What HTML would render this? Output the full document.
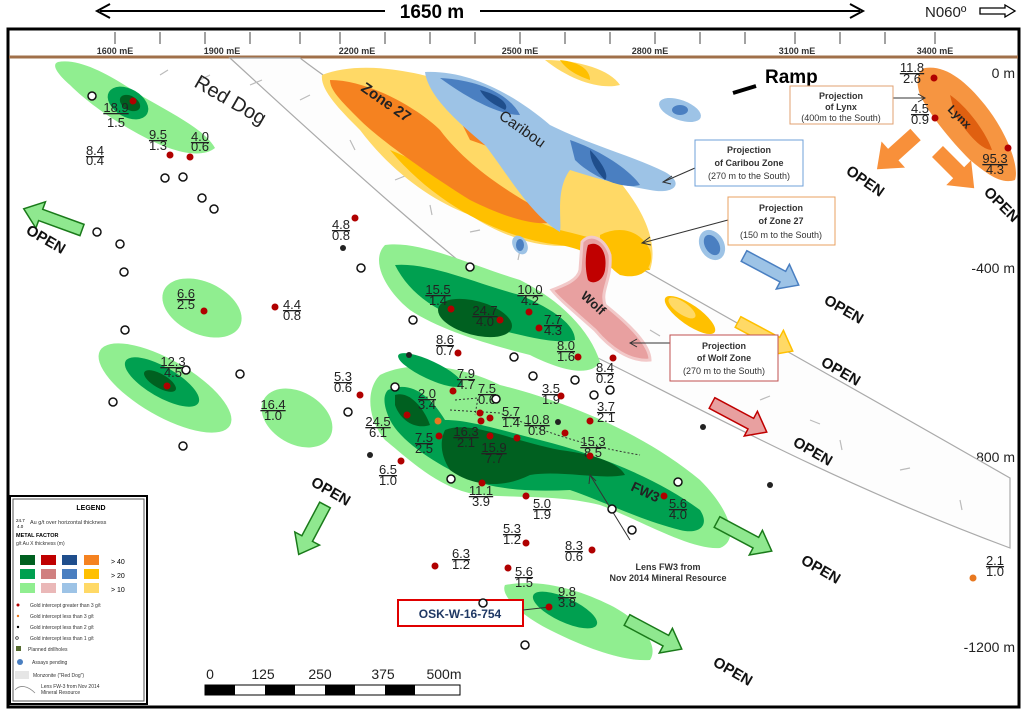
<!DOCTYPE html>
<html><head><meta charset="utf-8"><style>
body{margin:0;background:#fff;}
svg{display:block;font-family:"Liberation Sans",sans-serif;}
.f{font-size:13px;fill:#222;text-anchor:middle}
.o{font-size:15px;font-weight:bold;fill:#111}
.p{font-size:9px;font-weight:bold;fill:#333;text-anchor:middle}
.q{font-size:9px;fill:#333;text-anchor:middle}
</style></head><body>
<svg width="1024" height="711" viewBox="0 0 1024 711" xmlns="http://www.w3.org/2000/svg">
<!-- top arrow -->
<line x1="100" y1="11" x2="860" y2="11" stroke="#000" stroke-width="2"/>
<polyline points="110,4 97,11 110,18" fill="none" stroke="#000" stroke-width="2"/>
<polyline points="850,4 863,11 850,18" fill="none" stroke="#000" stroke-width="2"/>
<rect x="385" y="0" width="95" height="22" fill="#fff"/>
<text x="432" y="18" font-size="19" font-weight="bold" text-anchor="middle">1650 m</text>
<text x="925" y="17" font-size="15" fill="#222">N060º</text>
<path d="M980 8 H1005 V5 L1015 11 L1005 17 V14 H980 Z" fill="#fff" stroke="#000" stroke-width="1.3"/>
<!-- frame -->
<rect x="8" y="29" width="1011" height="678" fill="#fff" stroke="#000" stroke-width="3"/>
<line x1="9" y1="57" x2="1018" y2="57" stroke="#a0704a" stroke-width="3"/>
<g stroke="#444" stroke-width="1">
<line x1="115" y1="32" x2="115" y2="44"/><line x1="160" y1="32" x2="160" y2="44"/><line x1="205" y1="32" x2="205" y2="44"/><line x1="250" y1="32" x2="250" y2="44"/><line x1="300" y1="32" x2="300" y2="44"/><line x1="340" y1="32" x2="340" y2="44"/><line x1="385" y1="32" x2="385" y2="44"/><line x1="430" y1="32" x2="430" y2="44"/><line x1="475" y1="32" x2="475" y2="44"/><line x1="520" y1="32" x2="520" y2="44"/><line x1="565" y1="32" x2="565" y2="44"/><line x1="610" y1="32" x2="610" y2="44"/><line x1="655" y1="32" x2="655" y2="44"/><line x1="700" y1="32" x2="700" y2="44"/><line x1="745" y1="32" x2="745" y2="44"/><line x1="795" y1="32" x2="795" y2="44"/><line x1="840" y1="32" x2="840" y2="44"/><line x1="885" y1="32" x2="885" y2="44"/><line x1="935" y1="32" x2="935" y2="44"/>
</g>
<g font-size="9" font-weight="bold" fill="#333" text-anchor="middle">
<text x="115" y="54">1600 mE</text><text x="222" y="54">1900 mE</text><text x="357" y="54">2200 mE</text><text x="520" y="54">2500 mE</text><text x="650" y="54">2800 mE</text><text x="797" y="54">3100 mE</text><text x="935" y="54">3400 mE</text>
</g>
<g font-size="14" fill="#222" text-anchor="end">
<text x="1015" y="78">0 m</text><text x="1015" y="273">-400 m</text><text x="1015" y="462">-800 m</text><text x="1015" y="652">-1200 m</text>
</g>
<!-- monzonite band -->
<path d="M230 58 L300 58 C420 150 700 300 1010 478 L1010 548 C800 470 650 380 560 340 C450 260 330 150 230 58 Z" fill="#fdfdfd" stroke="#aaa" stroke-width="1.2"/>
<g stroke="#bbb" stroke-width="1.2">
<line x1="300" y1="100" x2="310" y2="95"/><line x1="350" y1="140" x2="355" y2="150"/><line x1="395" y1="180" x2="405" y2="176"/><line x1="430" y1="205" x2="432" y2="215"/><line x1="470" y1="232" x2="480" y2="230"/><line x1="520" y1="250" x2="518" y2="260"/><line x1="590" y1="300" x2="600" y2="296"/><line x1="650" y1="330" x2="660" y2="336"/><line x1="700" y1="360" x2="705" y2="370"/><line x1="760" y1="400" x2="770" y2="396"/><line x1="840" y1="440" x2="842" y2="450"/><line x1="900" y1="470" x2="910" y2="468"/><line x1="960" y1="500" x2="962" y2="510"/><line x1="250" y1="85" x2="262" y2="80"/><line x1="200" y1="80" x2="210" y2="75"/><line x1="160" y1="75" x2="168" y2="70"/><line x1="810" y1="420" x2="820" y2="424"/>
</g>
<!-- Zone 27 / yellow-orange -->
<path d="M322 75 C360 60 420 70 470 90 C520 110 560 130 600 160 C640 200 660 240 650 270 C620 275 590 265 575 245 C540 250 500 235 470 215 C430 200 390 170 360 130 C340 110 320 90 322 75Z" fill="#ffd966"/>
<path d="M390 150 C440 170 500 210 560 230 C600 240 640 250 650 270 C620 270 590 250 560 245 C510 240 440 210 390 150Z" fill="#ffc000"/>
<path d="M330 80 C370 80 420 110 440 130 C470 170 520 200 560 220 C540 230 500 215 470 200 C430 175 380 140 360 120 C340 100 330 90 330 80Z" fill="#f58220"/>
<path d="M460 120 C490 125 520 140 545 155 C530 165 500 150 470 140Z" fill="#f58220"/>
<path d="M545 60 C580 60 610 70 620 85 C600 90 570 80 545 60Z" fill="#ffd966"/>
<path d="M560 60 C580 62 590 70 590 80 C575 75 565 68 560 60Z" fill="#ffc000"/>
<!-- Caribou blue -->
<path d="M425 72 C470 70 515 95 550 125 C590 145 630 155 665 172 C685 183 675 195 650 190 C620 185 595 178 570 170 C555 190 562 220 560 232 C530 215 505 170 485 145 C455 120 428 95 425 72Z" fill="#9dc3e6"/>
<path d="M440 78 C480 80 510 95 520 115 C500 115 470 100 440 78Z" fill="#4a7fc1"/>
<path d="M480 90 C500 95 510 105 505 110 C495 105 485 100 480 90Z" fill="#1f4e8c"/>
<path d="M570 140 C600 150 630 170 640 185 C620 190 590 175 575 160Z" fill="#4a7fc1"/>
<path d="M590 150 C600 160 610 175 605 180 C595 170 590 160 590 150Z" fill="#1f4e8c"/>
<ellipse cx="680" cy="110" rx="22" ry="10" transform="rotate(20 680 110)" fill="#9dc3e6"/>
<ellipse cx="680" cy="110" rx="8" ry="5" fill="#4a7fc1"/>
<ellipse cx="520" cy="245" rx="7" ry="10" transform="rotate(-30 520 245)" fill="#9dc3e6"/>
<ellipse cx="520" cy="245" rx="4" ry="6" fill="#4a7fc1"/>
<ellipse cx="712" cy="245" rx="12" ry="16" transform="rotate(-30 712 245)" fill="#9dc3e6"/>
<ellipse cx="712" cy="245" rx="7" ry="11" transform="rotate(-30 712 245)" fill="#4a7fc1"/>
<path d="M600 235 C620 225 640 230 650 250 C655 270 640 280 620 275 C605 265 600 250 600 235Z" fill="#ffc000"/>
<ellipse cx="690" cy="315" rx="30" ry="10" transform="rotate(35 690 315)" fill="#ffc000"/>
<ellipse cx="682" cy="308" rx="16" ry="6" transform="rotate(35 682 308)" fill="#ffd966"/>
<!-- Wolf -->
<path d="M582 242 C590 232 605 238 610 255 C612 280 600 290 605 305 C630 325 650 345 650 360 C630 362 610 348 595 330 C575 312 560 300 552 290 C565 285 578 280 580 270Z" fill="#e8a0a0" stroke="#f2c9c9" stroke-width="3"/>
<path d="M588 245 C598 240 608 250 605 270 C603 282 592 285 588 280 C585 270 585 255 588 245Z" fill="#c00000"/>
<!-- Lynx -->
<path d="M925 68 C945 65 965 80 985 105 C1005 130 1020 165 1015 180 C1000 185 985 172 970 160 C950 140 930 115 920 95 C915 80 918 70 925 68Z" fill="#f58220" opacity="0.85"/>
<path d="M950 95 C965 105 985 130 992 150 C980 150 965 130 955 115Z" fill="#e06010"/>
<!-- green zones -->
<g>
<path d="M58 62 C80 58 110 75 140 95 C175 115 205 130 215 148 C200 160 170 150 150 140 C120 125 90 105 70 85 C55 72 52 64 58 62Z" fill="#90ee90"/>
<ellipse cx="128" cy="103" rx="22" ry="14" transform="rotate(30 128 103)" fill="#00a050"/>
<ellipse cx="130" cy="103" rx="11" ry="7" transform="rotate(30 130 103)" fill="#006020"/>
<ellipse cx="202" cy="308" rx="42" ry="26" transform="rotate(25 202 308)" fill="#90ee90"/>
<ellipse cx="165" cy="388" rx="75" ry="28" transform="rotate(30 165 388)" fill="#90ee90"/>
<ellipse cx="162" cy="382" rx="42" ry="15" transform="rotate(30 162 382)" fill="#00a050"/>
<ellipse cx="160" cy="381" rx="18" ry="7" transform="rotate(30 160 381)" fill="#006020"/>
<ellipse cx="297" cy="418" rx="38" ry="26" transform="rotate(30 297 418)" fill="#90ee90"/>
<path d="M385 245 C420 240 470 265 520 280 C560 300 590 330 600 362 C590 378 560 370 530 355 C490 345 440 330 410 310 C385 290 370 260 385 245Z" fill="#90ee90"/>
<path d="M395 265 C430 262 480 285 520 295 C555 310 575 325 575 340 C555 345 520 335 480 325 C440 315 410 295 395 265Z" fill="#00a050"/>
<ellipse cx="475" cy="318" rx="38" ry="17" transform="rotate(15 475 318)" fill="#006020"/>
<path d="M380 375 C410 360 460 365 500 385 C560 400 640 430 700 480 C730 510 740 540 720 548 C690 550 640 520 600 505 C560 495 520 498 480 495 C440 490 410 460 385 440 C368 420 365 390 380 375Z" fill="#90ee90"/>
<path d="M388 390 C410 380 430 395 445 420 C470 420 500 430 540 440 C600 455 660 480 700 510 C710 525 700 535 680 530 C640 520 600 500 570 490 C530 492 490 490 460 475 C430 460 400 440 390 420 C383 405 383 395 388 390Z" fill="#00a050"/>
<ellipse cx="430" cy="370" rx="35" ry="9" transform="rotate(25 430 370)" fill="#00a050"/>
<path d="M395 395 C410 390 425 410 430 425 C415 430 400 420 395 405Z" fill="#006020"/>
<path d="M445 430 C470 420 510 440 560 450 C600 455 620 465 625 475 C600 480 560 470 530 475 C500 490 470 485 450 470 C440 455 440 440 445 430Z" fill="#006020"/>
<path d="M505 585 C540 578 580 590 610 605 C640 620 660 645 650 660 C620 662 580 645 550 630 C520 615 500 595 505 585Z" fill="#90ee90"/>
<ellipse cx="565" cy="610" rx="35" ry="12" transform="rotate(25 565 610)" fill="#00a050"/>
</g>
<!-- dotted FW3 outline -->
<path d="M450 410 L500 413 C540 430 580 445 640 455" fill="none" stroke="#333" stroke-width="1" stroke-dasharray="2,2"/>
<path d="M455 400 L478 398 L475 415" fill="none" stroke="#333" stroke-width="1" stroke-dasharray="2,2"/>
<!-- zone labels -->
<text x="360" y="90" transform="rotate(35 360 90)" font-size="15" font-weight="bold" fill="#222">Zone 27</text>
<text x="498" y="118" transform="rotate(35 498 118)" font-size="15" fill="#222">Caribou</text>
<text x="193" y="86" transform="rotate(30 193 86)" font-size="20" fill="#222">Red Dog</text>
<text x="580" y="297" transform="rotate(42 580 297)" font-size="13" font-weight="bold" fill="#222">Wolf</text>
<text x="947" y="110" transform="rotate(45 947 110)" font-size="12" font-weight="bold" fill="#222">Lynx</text>
<text x="630" y="490" transform="rotate(25 630 490)" font-size="14" font-weight="bold" fill="#222">FW3</text>
<text x="765" y="83" font-size="19" font-weight="bold">Ramp</text>
<line x1="733" y1="93" x2="756" y2="86" stroke="#000" stroke-width="4"/>
<!-- block arrows -->
<g stroke-width="1.5">
<path d="M0,-6 L44,-6 L44,-14 L62,0 L44,14 L44,6 L0,6 Z" transform="translate(82,230) rotate(200)" fill="#8fe88f" stroke="#1a7a1a"/>
<path d="M0,-6 L38,-6 L38,-14 L56,0 L38,14 L38,6 L0,6 Z" transform="translate(325,505) rotate(118)" fill="#8fe88f" stroke="#1a7a1a"/>
<path d="M0,-6 L44,-6 L44,-14 L62,0 L44,14 L44,6 L0,6 Z" transform="translate(717,522) rotate(28)" fill="#8fe88f" stroke="#1a7a1a"/>
<path d="M0,-6 L44,-6 L44,-14 L62,0 L44,14 L44,6 L0,6 Z" transform="translate(627,620) rotate(28)" fill="#8fe88f" stroke="#1a7a1a"/>
<path d="M0,-6 L44,-6 L44,-14 L62,0 L44,14 L44,6 L0,6 Z" transform="translate(744,256) rotate(28)" fill="#9dc3e6" stroke="#4a7fc1"/>
<path d="M0,-6 L44,-6 L44,-14 L62,0 L44,14 L44,6 L0,6 Z" transform="translate(738,322) rotate(28)" fill="#ffd966" stroke="#ffc000"/>
<path d="M0,-6 L44,-6 L44,-14 L62,0 L44,14 L44,6 L0,6 Z" transform="translate(712,403) rotate(28)" fill="#e8a0a0" stroke="#c00000"/>
<path d="M0,-7 L30,-7 L30,-16 L50,0 L30,16 L30,7 L0,7 Z" transform="translate(915,135) rotate(138)" fill="#f8903a" stroke="#f8903a"/>
<path d="M0,-7 L30,-7 L30,-16 L50,0 L30,16 L30,7 L0,7 Z" transform="translate(938,152) rotate(45)" fill="#f8903a" stroke="#f8903a"/>
</g>
<g class="o">
<text x="25" y="233" transform="rotate(30 25 233)">OPEN</text>
<text x="310" y="485" transform="rotate(30 310 485)">OPEN</text>
<text x="800" y="563" transform="rotate(30 800 563)">OPEN</text>
<text x="712" y="665" transform="rotate(30 712 665)">OPEN</text>
<text x="823" y="303" transform="rotate(30 823 303)">OPEN</text>
<text x="820" y="365" transform="rotate(30 820 365)">OPEN</text>
<text x="792" y="445" transform="rotate(30 792 445)">OPEN</text>
<text x="845" y="173" transform="rotate(35 845 173)">OPEN</text>
<text x="983" y="193" transform="rotate(45 983 193)">OPEN</text>
</g>
<!-- callouts -->
<g stroke="#333" stroke-width="1" fill="none">
<line x1="893" y1="98" x2="925" y2="98"/><polyline points="918,94 925,98 918,102"/>
<line x1="695" y1="168" x2="663" y2="182"/><polyline points="672,176 663,182 671,184"/>
<line x1="728" y1="220" x2="642" y2="243"/><polyline points="650,237 642,243 651,245"/>
<line x1="670" y1="343" x2="630" y2="343"/><polyline points="637,339 630,343 637,347"/>
<line x1="630" y1="540" x2="590" y2="475"/><polyline points="589,484 590,475 596,481"/>
</g>
<rect x="790" y="86" width="103" height="38" fill="#fff" stroke="#e0a070"/>
<text class="p" x="841" y="99">Projection</text><text class="p" x="841" y="110">of Lynx</text><text class="q" x="841" y="121">(400m to the South)</text>
<rect x="695" y="140" width="108" height="46" fill="#fff" stroke="#6fa0d8"/>
<text class="p" x="749" y="153">Projection</text><text class="p" x="749" y="166">of Caribou Zone</text><text class="q" x="749" y="179">(270 m to the South)</text>
<rect x="728" y="197" width="107" height="48" fill="#fff" stroke="#e8a060"/>
<text class="p" x="781" y="211">Projection</text><text class="p" x="781" y="224">of Zone 27</text><text class="q" x="781" y="238">(150 m to the South)</text>
<rect x="670" y="335" width="108" height="46" fill="#fff" stroke="#c05050"/>
<text class="p" x="724" y="349">Projection</text><text class="p" x="724" y="361">of Wolf Zone</text><text class="q" x="724" y="374">(270 m to the South)</text>
<text class="p" x="668" y="570">Lens FW3 from</text><text class="p" x="668" y="581">Nov 2014 Mineral Resource</text>
<rect x="398" y="600" width="125" height="26" fill="#fff" stroke="#e00000" stroke-width="2"/>
<text x="460" y="618" font-size="12" font-weight="bold" fill="#1f3864" text-anchor="middle">OSK-W-16-754</text>
<line x1="523" y1="610" x2="550" y2="607" stroke="#333"/>
<!-- fractions -->
<g class="f" text-decoration="underline">
<text x="116" y="112">18.9</text><text x="95" y="155">8.4</text><text x="158" y="139">9.5</text><text x="200" y="141">4.0</text><text x="341" y="229">4.8</text><text x="186" y="298">6.6</text><text x="292" y="309">4.4</text><text x="173" y="366">12.3</text><text x="343" y="381">5.3</text><text x="273" y="409">16.4</text><text x="438" y="294">15.5</text><text x="485" y="315">24.7</text><text x="530" y="294">10.0</text><text x="553" y="324">7.7</text><text x="445" y="344">8.6</text><text x="566" y="350">8.0</text><text x="605" y="372">8.4</text><text x="466" y="378">7.9</text><text x="427" y="398">2.0</text><text x="487" y="393">7.5</text><text x="511" y="416">5.7</text><text x="551" y="393">3.5</text><text x="537" y="424">10.8</text><text x="606" y="411">3.7</text><text x="378" y="426">24.5</text><text x="424" y="442">7.5</text><text x="466" y="436">16.3</text><text x="494" y="452">15.9</text><text x="593" y="446">15.3</text><text x="388" y="474">6.5</text><text x="481" y="495">11.1</text><text x="542" y="508">5.0</text><text x="678" y="508">5.6</text><text x="512" y="533">5.3</text><text x="461" y="558">6.3</text><text x="574" y="550">8.3</text><text x="524" y="576">5.6</text><text x="567" y="596">9.8</text><text x="995" y="565">2.1</text><text x="912" y="72">11.8</text><text x="920" y="113">4.5</text><text x="995" y="163">95.3</text>
</g>
<g class="f">
<text x="116" y="127">1.5</text><text x="95" y="165">0.4</text><text x="158" y="150">1.3</text><text x="200" y="151">0.6</text><text x="341" y="240">0.8</text><text x="186" y="309">2.5</text><text x="292" y="320">0.8</text><text x="173" y="377">4.5</text><text x="343" y="392">0.6</text><text x="273" y="420">1.0</text><text x="438" y="305">1.4</text><text x="485" y="326">4.0</text><text x="530" y="305">4.2</text><text x="553" y="335">4.3</text><text x="445" y="355">0.7</text><text x="566" y="361">1.6</text><text x="605" y="383">0.2</text><text x="466" y="389">4.7</text><text x="427" y="409">3.4</text><text x="487" y="404">0.6</text><text x="511" y="427">1.4</text><text x="551" y="404">1.9</text><text x="537" y="435">0.8</text><text x="606" y="422">2.1</text><text x="378" y="437">6.1</text><text x="424" y="453">2.5</text><text x="466" y="447">2.1</text><text x="494" y="463">7.7</text><text x="593" y="457">8.5</text><text x="388" y="485">1.0</text><text x="481" y="506">3.9</text><text x="542" y="519">1.9</text><text x="678" y="519">4.0</text><text x="512" y="544">1.2</text><text x="461" y="569">1.2</text><text x="574" y="561">0.6</text><text x="524" y="587">1.5</text><text x="567" y="607">3.8</text><text x="995" y="576">1.0</text><text x="912" y="83">2.6</text><text x="920" y="124">0.9</text><text x="995" y="174">4.3</text>
</g>
<!-- red dots -->
<g fill="#b00000">
<circle cx="133" cy="101" r="3.5"/><circle cx="170" cy="155" r="3.5"/><circle cx="190" cy="157" r="3.5"/><circle cx="355" cy="218" r="3.5"/><circle cx="204" cy="311" r="3.5"/><circle cx="275" cy="307" r="3.5"/><circle cx="167" cy="386" r="3.5"/><circle cx="360" cy="395" r="3.5"/><circle cx="451" cy="309" r="3.5"/><circle cx="500" cy="320" r="3.5"/><circle cx="529" cy="312" r="3.5"/><circle cx="539" cy="328" r="3.5"/><circle cx="458" cy="353" r="3.5"/><circle cx="578" cy="357" r="3.5"/><circle cx="613" cy="358" r="3.5"/><circle cx="453" cy="391" r="3.5"/><circle cx="407" cy="415" r="3.5"/><circle cx="480" cy="413" r="3.5"/><circle cx="481" cy="421" r="3.5"/><circle cx="490" cy="418" r="3.5"/><circle cx="490" cy="436" r="3.5"/><circle cx="517" cy="438" r="3.5"/><circle cx="439" cy="436" r="3.5"/><circle cx="590" cy="456" r="3.5"/><circle cx="482" cy="483" r="3.5"/><circle cx="526" cy="496" r="3.5"/><circle cx="664" cy="496" r="3.5"/><circle cx="401" cy="461" r="3.5"/><circle cx="526" cy="543" r="3.5"/><circle cx="592" cy="550" r="3.5"/><circle cx="565" cy="433" r="3.5"/><circle cx="590" cy="421" r="3.5"/><circle cx="561" cy="396" r="3.5"/><circle cx="435" cy="566" r="3.5"/><circle cx="508" cy="568" r="3.5"/><circle cx="549" cy="607" r="3.5"/><circle cx="934" cy="78" r="3.5"/><circle cx="935" cy="118" r="3.5"/><circle cx="1008" cy="148" r="3.5"/>
</g>
<circle cx="438" cy="421" r="3.5" fill="#e87820"/><circle cx="973" cy="578" r="3.5" fill="#e87820"/>
<g fill="#222">
<circle cx="343" cy="248" r="3"/><circle cx="409" cy="355" r="3"/><circle cx="370" cy="455" r="3"/><circle cx="558" cy="422" r="3"/><circle cx="703" cy="427" r="3"/><circle cx="770" cy="485" r="3"/>
</g>
<g fill="#fff" stroke="#111" stroke-width="1.5">
<circle cx="92" cy="96" r="4"/><circle cx="97" cy="232" r="4"/><circle cx="120" cy="244" r="4"/><circle cx="165" cy="178" r="4"/><circle cx="183" cy="177" r="4"/><circle cx="202" cy="198" r="4"/><circle cx="214" cy="209" r="4"/><circle cx="124" cy="272" r="4"/><circle cx="125" cy="330" r="4"/><circle cx="113" cy="402" r="4"/><circle cx="186" cy="370" r="4"/><circle cx="240" cy="374" r="4"/><circle cx="183" cy="446" r="4"/><circle cx="361" cy="268" r="4"/><circle cx="470" cy="267" r="4"/><circle cx="413" cy="320" r="4"/><circle cx="514" cy="357" r="4"/><circle cx="533" cy="376" r="4"/><circle cx="575" cy="380" r="4"/><circle cx="496" cy="399" r="4"/><circle cx="348" cy="412" r="4"/><circle cx="451" cy="479" r="4"/><circle cx="610" cy="390" r="4"/><circle cx="678" cy="482" r="4"/><circle cx="612" cy="509" r="4"/><circle cx="632" cy="530" r="4"/><circle cx="525" cy="645" r="4"/><circle cx="483" cy="603" r="4"/><circle cx="594" cy="395" r="4"/><circle cx="395" cy="387" r="4"/>
</g>
<!-- legend -->
<rect x="10" y="496" width="137" height="208" fill="#fff" stroke="#000" stroke-width="2"/>
<rect x="13" y="499" width="131" height="202" fill="none" stroke="#555" stroke-width="1"/>
<text x="91" y="510" font-size="7" font-weight="bold" text-anchor="middle">LEGEND</text>
<text x="16" y="522" font-size="4.5">24.7</text><text x="17" y="528" font-size="4.5">4.0</text>
<text x="30" y="524" font-size="5.5" fill="#333">Au g/t over horizontal thickness</text>
<text x="16" y="537" font-size="5.5" font-weight="bold">METAL FACTOR</text>
<text x="16" y="545" font-size="5" fill="#333">g/t Au X thickness (m)</text>
<g>
<rect x="20" y="555" width="15" height="10" fill="#006020"/><rect x="41" y="555" width="15" height="10" fill="#c00000"/><rect x="62" y="555" width="15" height="10" fill="#1f4e8c"/><rect x="84" y="555" width="15" height="10" fill="#f58220"/>
<rect x="20" y="569" width="15" height="10" fill="#00a050"/><rect x="41" y="569" width="15" height="10" fill="#d08080"/><rect x="62" y="569" width="15" height="10" fill="#4a7fc1"/><rect x="84" y="569" width="15" height="10" fill="#ffc000"/>
<rect x="20" y="583" width="15" height="10" fill="#90ee90"/><rect x="41" y="583" width="15" height="10" fill="#eab8b8"/><rect x="62" y="583" width="15" height="10" fill="#9dc3e6"/><rect x="84" y="583" width="15" height="10" fill="#ffd966"/>
</g>
<text x="111" y="564" font-size="7">&gt; 40</text><text x="111" y="578" font-size="7">&gt; 20</text><text x="111" y="592" font-size="7">&gt; 10</text>
<g font-size="5" fill="#333">
<circle cx="18" cy="605" r="1.5" fill="#b00000"/><text x="30" y="607">Gold intercept greater than 3 g/t</text>
<circle cx="18" cy="616" r="1.2" fill="#e87820"/><text x="30" y="618">Gold intercept less than 3 g/t</text>
<circle cx="18" cy="627" r="1.2" fill="#000"/><text x="30" y="629">Gold intercept less than 2 g/t</text>
<circle cx="17" cy="638" r="1.3" fill="none" stroke="#000" stroke-width="0.6"/><text x="30" y="640">Gold intercept less than 1 g/t</text>
<rect x="16" y="646" width="5" height="5" fill="#556b2f"/><text x="28" y="651">Planned drillholes</text>
<circle cx="20" cy="662" r="3" fill="#4a7fc1"/><text x="32" y="664">Assays pending</text>
<rect x="15" y="671" width="14" height="8" fill="#e6e6e6"/><text x="33" y="677">Monzonite ("Red Dog")</text>
<text x="41" y="688">Lens FW-3 from Nov 2014</text><text x="41" y="694">Mineral Resource</text>
<path d="M15 690 C20 684 28 686 35 693" fill="none" stroke="#888" stroke-width="0.8"/>
</g>
<!-- scale bar -->
<g font-size="14" fill="#222" text-anchor="middle">
<text x="210" y="679">0</text><text x="263" y="679">125</text><text x="320" y="679">250</text><text x="383" y="679">375</text><text x="444" y="679">500m</text>
</g>
<rect x="205" y="685" width="255" height="10" fill="#fff" stroke="#000"/>
<rect x="205" y="685" width="30" height="10" fill="#000"/><rect x="265" y="685" width="30" height="10" fill="#000"/><rect x="325" y="685" width="30" height="10" fill="#000"/><rect x="385" y="685" width="30" height="10" fill="#000"/>
</svg>
</body></html>
